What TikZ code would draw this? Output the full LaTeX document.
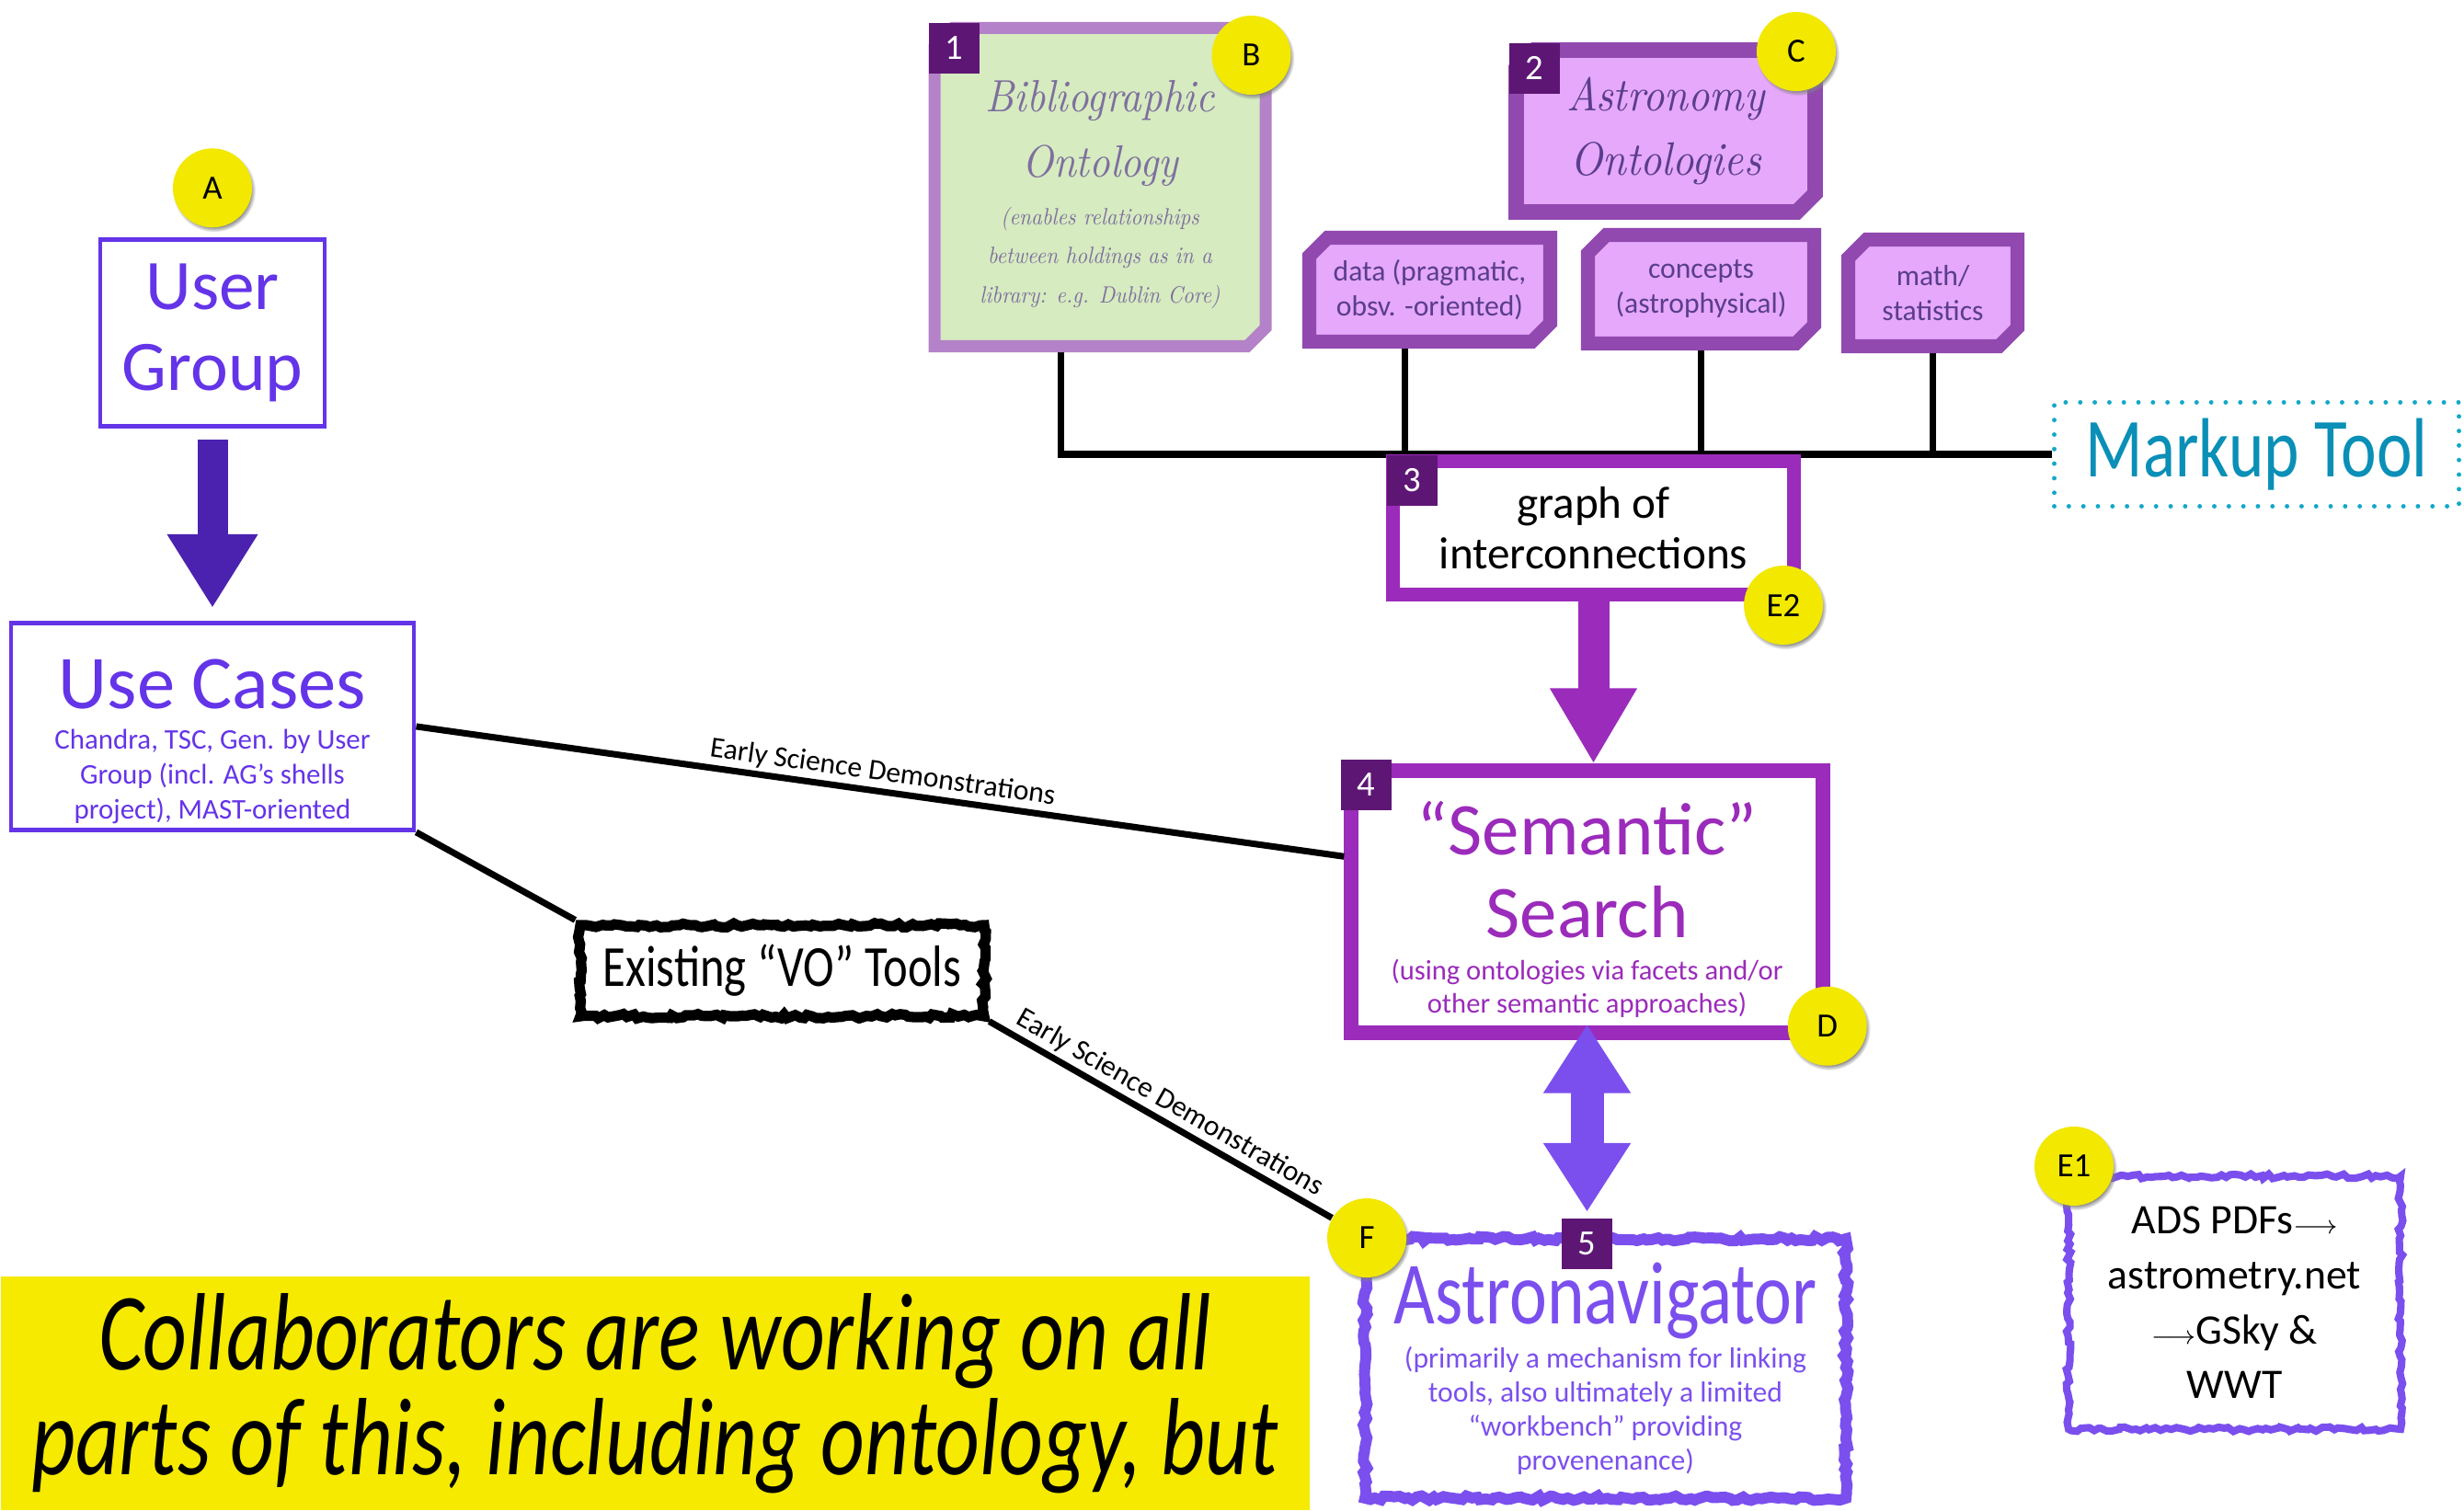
\documentclass[tikz,border=0pt]{standalone}
\usepackage{fontspec}
\setsansfont{Carlito}
\renewcommand{\familydefault}{\sfdefault}
\newfontfamily\narrowfont{Carlito}[FakeStretch=0.8]
\newfontfamily\squeezedfont{Carlito}[FakeStretch=0.78]
\newfontfamily\handfont{lmroman10-italic.otf}[FakeStretch=0.9]
\usetikzlibrary{positioning,shapes.misc,arrows.meta,decorations.pathmorphing,shadows,backgrounds}

\definecolor{usergroupblue}{HTML}{6434E8}
\definecolor{arrowindigo}{HTML}{4B22B0}
\definecolor{searchpurple}{HTML}{9B2BBB}
\definecolor{tagpurple}{HTML}{5E1675}
\definecolor{ontoborder}{HTML}{9149B0}
\definecolor{ontofill}{HTML}{E6A8FA}
\definecolor{ontotext}{HTML}{5A3D8E}
\definecolor{biblioborder}{HTML}{B482C8}
\definecolor{bibliofill}{HTML}{D6EBC0}
\definecolor{bibliotext}{HTML}{7E6F9E}
\definecolor{navlavender}{HTML}{7B4FEE}
\definecolor{badgeyellow}{HTML}{F2E800}
\definecolor{collabyellow}{HTML}{F5EA00}
\definecolor{markupblue}{HTML}{0A8FB7}
\definecolor{markupdots}{HTML}{14A8C8}

\begin{document}
\pgfmathsetseed{42}
\begin{tikzpicture}[
    every node/.style={inner sep=0pt},
    plain box/.style={draw=usergroupblue,line width=1.4pt,text=usergroupblue,align=flush center},
    onto box/.style={chamfered rectangle,chamfered rectangle corners={north west,south east},chamfered rectangle xsep=0.1cm,chamfered rectangle ysep=0.1cm,draw=ontoborder,fill=ontofill,line width=4.3pt,text=ontotext,align=flush center},
    search box/.style={draw=searchpurple,fill=white,line width=4.4pt,align=flush center},
    rough box/.style={draw=#1,decorate,decoration={random steps,segment length=1.5pt,amplitude=0.7pt},align=flush center},
    tag/.style={fill=tagpurple,text=white,minimum size=0.55cm,font=\fontsize{11}{11}\selectfont},
    badge/.style={circle,fill=badgeyellow,minimum size=0.86cm,font=\fontsize{10.5}{10.5}\selectfont,circular drop shadow={shadow xshift=0.5pt,shadow yshift=-0.8pt,shadow scale=1.05}},
    bus/.style={line width=2pt},
    link/.style={line width=2pt},
    link label/.style={midway,sloped,above=1pt,font=\fontsize{9}{9}\selectfont},
  ]
\useasboundingbox (0,0) rectangle (26.79,-16.43);

\node (user group) [plain box,minimum width=2.44cm,minimum height=2.03cm,font=\fontsize{22}{25}\selectfont] at (2.31,-3.62) {User\\Group};
\node (badge a) [badge,above=0.1 of user group] {A};
\node (use cases) [plain box,minimum width=4.38cm,minimum height=2.25cm,text width=4.3cm,below=2.09 of user group] {
  {\fontsize{23.5}{24}\selectfont\rule{0pt}{0.86cm}Use Cases\par}\vspace{2pt}
  {\fontsize{8.8}{10.7}\selectfont Chandra, TSC, Gen. by User\\Group (incl. AG’s shells\\project), MAST-oriented\par}
};
\draw[line width=0.33cm,arrowindigo,-{Triangle[width=0.93cm,length=0.8cm]},shorten <=0.12cm,shorten >=0.14cm] (user group) -- (use cases);

\node (biblio) [onto box,draw=biblioborder,fill=bibliofill,text=bibliotext,line width=3.7pt,minimum width=3.49cm,minimum height=3.46cm,text width=3.4cm] at (11.96,-2.035) {
  {\handfont\fontsize{14}{20}\selectfont\rule{0pt}{0.51cm}Bibliographic\\Ontology\par}\vspace{2.6pt}
  {\handfont\fontsize{7.3}{12.2}\selectfont (enables relationships\\between holdings as in a\\library: e.g. Dublin Core)\par}
};
\node (astro) [onto box,line width=4.8pt,minimum width=3.25cm,minimum height=1.76cm,font=\handfont\fontsize{14.5}{20}\selectfont] at (18.11,-1.425) {Astronomy\\Ontologies};
\node (data box) [onto box,minimum width=2.62cm,minimum height=1.13cm,font=\fontsize{9}{10.8}\selectfont] at (15.545,-3.15) {data (pragmatic,\\obsv. -oriented)};
\node (concepts box) [onto box,minimum width=2.46cm,minimum height=1.18cm,font=\fontsize{9}{10.8}\selectfont] at (18.495,-3.145) {concepts\\(astrophysical)};
\node (math box) [onto box,minimum width=1.84cm,minimum height=1.16cm,font=\fontsize{9}{10.8}\selectfont] at (21.015,-3.185) {math/\\statistics};

\node (markup tool) [draw=markupdots,line width=1.4pt,dash pattern=on 0pt off 4.5pt,line cap=round,minimum width=4.4cm,minimum height=1.13cm,text=markupblue,font=\narrowfont\fontsize{26}{26}\selectfont] at (24.535,-4.94) {Markup Tool};

\node (graph) [search box,line width=4.3pt,minimum width=4.36cm,minimum height=1.45cm,font=\fontsize{14}{15.6}\selectfont] at (17.325,-5.74) {graph of\\interconnections};

\begin{scope}[on background layer]
\draw[bus] ([xshift=-0.43cm]biblio.south) |- (markup tool.west);
\draw[bus] ([xshift=-0.27cm]data box.south) |- (graph.north);
\draw[bus] (concepts box.south) |- (graph.north);
\draw[bus] (math box.south) |- (markup tool.west);
\end{scope}

\node (semantic) [search box,minimum width=5.13cm,minimum height=2.85cm,text width=5cm,text=searchpurple] at (17.255,-9.805) {
  {\fontsize{23}{25.6}\selectfont\rule{0pt}{0.75cm}“Semantic”\\Search\par}\vspace{2.8pt}
  {\fontsize{8.7}{10.2}\selectfont (using ontologies via facets and/or\\other semantic approaches)\par}
};
\draw[line width=0.34cm,searchpurple,-{Triangle[width=0.89cm,length=0.82cm]}] (graph.south) -- (graph.south |- semantic.north);

\node (astronav) [rough box=navlavender,line width=3.4pt,minimum width=5.23cm,minimum height=2.82cm,text width=5.1cm,text=navlavender] at (17.455,-14.88) {
  {\narrowfont\fontsize{27.5}{27}\selectfont Astronavigator\par}\vspace{1.5pt}
  {\fontsize{9}{10.5}\selectfont (primarily a mechanism for linking\\tools, also ultimately a limited\\“workbench” providing\\provenenance)\par}
};

\node (vo tools) [rough box=black,line width=3.2pt,minimum width=4.39cm,minimum height=0.99cm,font=\narrowfont\fontsize{18}{18}\selectfont] at (8.505,-10.555) {Existing “VO” Tools};

\node (e1 box) [rough box=navlavender,line width=2.3pt,minimum width=3.61cm,minimum height=2.75cm,font=\fontsize{13}{17}\selectfont] at (24.295,-14.165) {ADS PDFs{\fontsize{8}{8}\selectfont$\longrightarrow$}\\astrometry.net\\{\fontsize{8}{8}\selectfont$\longrightarrow$}GSky \&\\WWT};

\node (collab) [fill=collabyellow,minimum width=14.23cm,minimum height=2.54cm,text width=14.1cm,align=flush center,font=\squeezedfont\itshape\fontsize{34}{32.3}\selectfont,anchor=south west] at (0,-16.43) {Collaborators are working on all\\parts of this, including ontology, but};

\node (tag 1) [tag,anchor=north west] at (biblio.north -| biblio.west) {1};
\node (tag 2) [tag,anchor=north west] at (astro.north -| astro.west) {2};
\node (tag 3) [tag,anchor=north west] at (graph.north west) {3};
\node (tag 4) [tag,anchor=north west,xshift=-0.04cm,yshift=0.05cm] at (semantic.north west) {4};
\node (tag 5) [tag,yshift=-0.11cm] at (astronav.north -| semantic.south) {5};

\draw[line width=0.36cm,navlavender,{Triangle[width=0.9cm,length=0.75cm]}-{Triangle[width=0.9cm,length=0.75cm]},shorten <=-0.17cm,shorten >=0.06cm] (semantic.south) -- (tag 5.north);

\node (badge b) [badge,xshift=-0.22cm,yshift=-0.36cm] at (biblio.north -| biblio.east) {B};
\node (badge c) [badge,xshift=-0.29cm,yshift=-0.10cm] at (astro.north -| astro.east) {C};
\node (badge e2) [badge,xshift=-0.19cm,yshift=-0.04cm] at (graph.south east) {E2};
\node (badge d) [badge,xshift=-0.03cm,yshift=0.15cm] at (semantic.south east) {D};
\node (badge f) [badge,xshift=0.08cm,yshift=-0.05cm] at (astronav.north west) {F};
\node (badge e1) [badge,xshift=0.10cm,yshift=0.07cm] at (e1 box.north west) {E1};

\draw[link] (use cases.east) -- node[link label] {Early Science Demonstrations} ([yshift=-1.01cm]semantic.north west);
\draw[link] (use cases.south east) -- (vo tools.north west);
\draw[link] (vo tools.south east) -- node[link label] {Early Science Demonstrations} (badge f);
\end{tikzpicture}
\end{document}
